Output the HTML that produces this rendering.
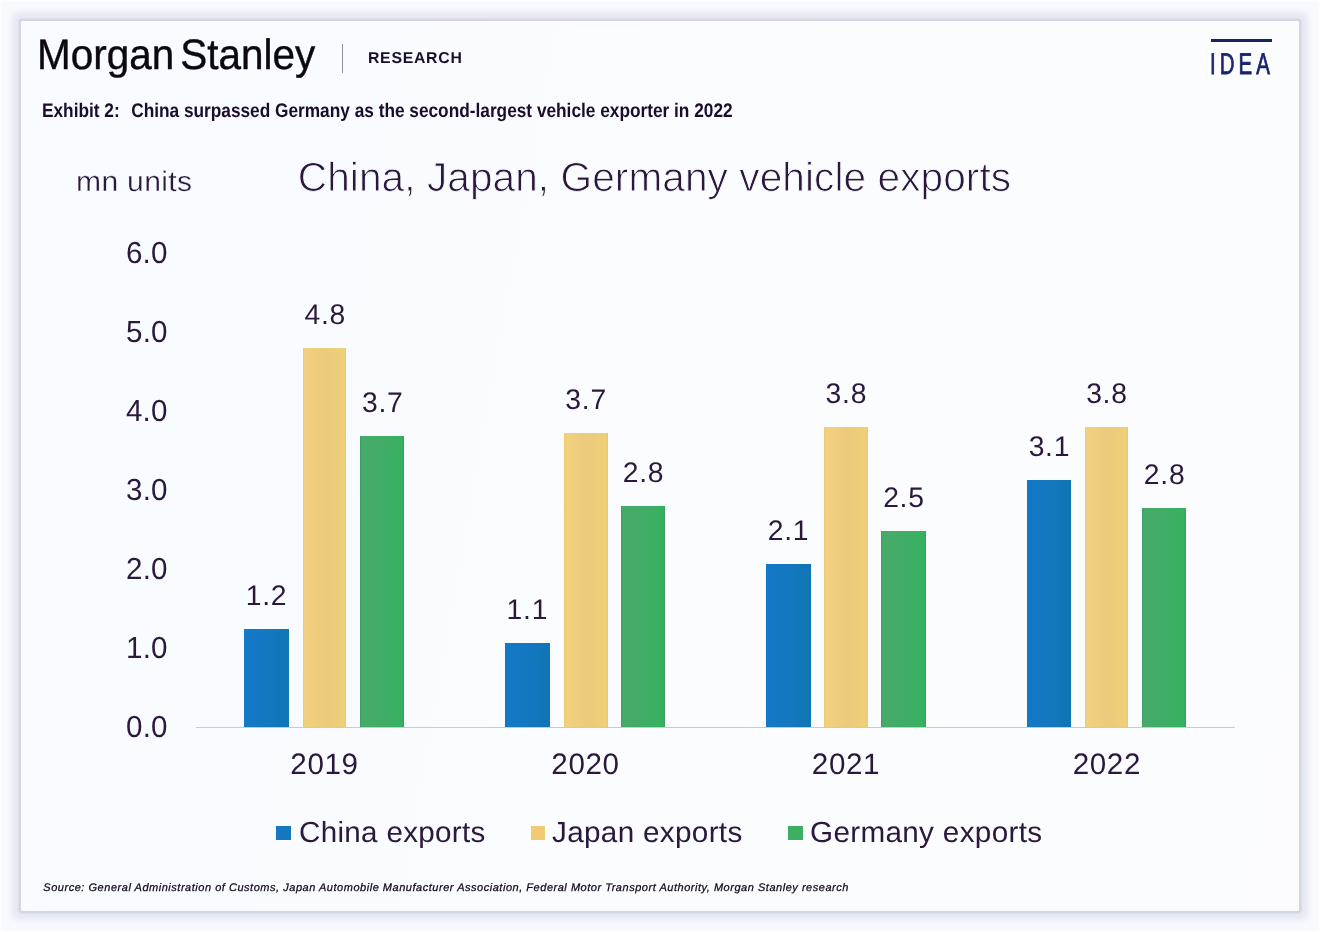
<!DOCTYPE html>
<html lang="en">
<head>
<meta charset="utf-8">
<title>China, Japan, Germany vehicle exports</title>
<style>
html,body{margin:0;padding:0;}
body{width:1320px;height:932px;overflow:hidden;background:#f8f9fe;font-family:"Liberation Sans",sans-serif;}
#page{position:relative;width:1320px;height:932px;overflow:hidden;background:#f8f9fe;box-shadow:inset 0 0 0 1.5px #fdfdfd;}
#card{position:absolute;left:21px;top:21px;width:1277.7px;height:890px;border-radius:2px;background:linear-gradient(100deg,#f7fbff 0%,#fafcff 45%,#fcfcfe 100%);box-shadow:0 0 1px 1.2px #d3d6e1,0 0 2px 2.5px #dcdfea,0 0 5px 8.5px #e6e9f3;}
.t{position:absolute;white-space:nowrap;transform-origin:0 50%;text-rendering:geometricPrecision;}
.bar{position:absolute;}
#axis{position:absolute;left:196px;top:726.5px;width:1039px;height:1.5px;background:#c3cbd3;}
#divider{position:absolute;left:342px;top:44px;width:1px;height:29px;background:#8f8f97;}
#idealine{position:absolute;left:1211px;top:39px;width:60.5px;height:3px;background:#14275c;}
.sq{position:absolute;top:826.2px;width:14.7px;height:14.2px;}
.g{display:contents;margin:0;padding:0;font:inherit;}

#ms{left:37.44px;top:29.78px;font-size:42.6px;line-height:51.12px;color:#0c0810;word-spacing:-5.5px;transform:scale(0.9504,1.0000);-webkit-text-stroke:0.4px #0c0810;}
#res{left:367.97px;top:50.25px;font-size:15.8px;line-height:18.96px;color:#1c0c2c;font-weight:700;letter-spacing:0.744px;}
#idea{left:1210.29px;top:47.10px;font-size:30px;line-height:36.0px;color:#1b2370;letter-spacing:6.000px;transform:scale(0.6815,1.0000);-webkit-text-stroke:0.8px #1b2370;}
#exh{left:42.14px;top:99.55px;font-size:19.7px;line-height:23.64px;color:#1c0c2c;font-weight:700;transform:scale(0.8766,1.0000);}
#mn{left:76.33px;top:165.31px;font-size:28.2px;line-height:33.84px;color:#2a183d;letter-spacing:0.300px;transform:scale(1.0671,1.0000);-webkit-text-stroke:0.3px #fafcff;}
#title{left:297.79px;top:153.17px;font-size:40.6px;line-height:48.72px;color:#2a183d;letter-spacing:0.078px;-webkit-text-stroke:0.9px #fafcff;}
#y0{left:125.90px;top:235.88px;font-size:29.6px;line-height:35.52px;color:#2a183d;letter-spacing:0.260px;transform:scale(1.0000,1.0300);}
#y1{left:125.93px;top:314.88px;font-size:29.6px;line-height:35.52px;color:#2a183d;letter-spacing:0.260px;transform:scale(1.0000,1.0300);}
#y2{left:125.92px;top:393.88px;font-size:29.6px;line-height:35.52px;color:#2a183d;letter-spacing:0.260px;transform:scale(1.0000,1.0300);}
#y3{left:125.93px;top:472.88px;font-size:29.6px;line-height:35.52px;color:#2a183d;letter-spacing:0.260px;transform:scale(1.0000,1.0300);}
#y4{left:125.93px;top:551.88px;font-size:29.6px;line-height:35.52px;color:#2a183d;letter-spacing:0.260px;transform:scale(1.0000,1.0300);}
#y5{left:125.93px;top:630.88px;font-size:29.6px;line-height:35.52px;color:#2a183d;letter-spacing:0.260px;transform:scale(1.0000,1.0300);}
#y6{left:125.93px;top:709.88px;font-size:29.6px;line-height:35.52px;color:#2a183d;letter-spacing:0.260px;transform:scale(1.0000,1.0300);}
#d00{left:245.82px;top:578.51px;font-size:28.3px;line-height:33.96px;color:#2a183d;letter-spacing:0.620px;}
#d01{left:304.42px;top:298.21px;font-size:28.3px;line-height:33.96px;color:#2a183d;letter-spacing:0.746px;}
#d02{left:361.95px;top:386.01px;font-size:28.3px;line-height:33.96px;color:#2a183d;letter-spacing:0.746px;}
#yr0{left:290.34px;top:746.98px;font-size:29.6px;line-height:35.52px;color:#2a183d;letter-spacing:0.624px;}
#d10{left:506.56px;top:593.21px;font-size:28.3px;line-height:33.96px;color:#2a183d;letter-spacing:0.746px;}
#d11{left:565.34px;top:383.01px;font-size:28.3px;line-height:33.96px;color:#2a183d;letter-spacing:0.746px;}
#d12{left:622.75px;top:456.21px;font-size:28.3px;line-height:33.96px;color:#2a183d;letter-spacing:0.746px;}
#yr1{left:551.31px;top:746.98px;font-size:29.6px;line-height:35.52px;color:#2a183d;letter-spacing:0.624px;}
#d20{left:767.73px;top:513.61px;font-size:28.3px;line-height:33.96px;color:#2a183d;letter-spacing:0.746px;}
#d21{left:825.58px;top:377.21px;font-size:28.3px;line-height:33.96px;color:#2a183d;letter-spacing:0.746px;}
#d22{left:883.15px;top:481.21px;font-size:28.3px;line-height:33.96px;color:#2a183d;letter-spacing:0.746px;}
#yr2{left:811.81px;top:746.98px;font-size:29.6px;line-height:35.52px;color:#2a183d;letter-spacing:0.624px;}
#d30{left:1028.64px;top:429.61px;font-size:28.3px;line-height:33.96px;color:#2a183d;letter-spacing:0.746px;}
#d31{left:1086.15px;top:377.21px;font-size:28.3px;line-height:33.96px;color:#2a183d;letter-spacing:0.746px;}
#d32{left:1143.80px;top:458.01px;font-size:28.3px;line-height:33.96px;color:#2a183d;letter-spacing:0.746px;}
#yr3{left:1072.65px;top:746.98px;font-size:29.6px;line-height:35.52px;color:#2a183d;letter-spacing:0.624px;}
#l0{left:299.04px;top:816.40px;font-size:28.0px;line-height:33.6px;color:#2a183d;letter-spacing:0.300px;transform:scale(1.0565,1.0400);}
#l1{left:551.68px;top:816.40px;font-size:28.0px;line-height:33.6px;color:#2a183d;letter-spacing:0.300px;transform:scale(1.0601,1.0400);}
#l2{left:809.84px;top:816.40px;font-size:28.0px;line-height:33.6px;color:#2a183d;letter-spacing:0.300px;transform:scale(1.0600,1.0400);}
#src{left:43.37px;top:881.59px;font-size:11px;line-height:13.2px;color:#10061c;font-style:italic;letter-spacing:0.526px;-webkit-text-stroke:0.25px #10061c;}
</style>
</head>
<body>
<div id="page">
<div id="card"></div>
<header class="g">
<span class="t" id="ms">Morgan Stanley</span>
<div id="divider"></div>
<span class="t" id="res">RESEARCH</span>
<div id="idealine"></div>
<span class="t" id="idea">IDEA</span>
</header>
<p class="g"><span class="t" id="exh">Exhibit 2:  China surpassed Germany as the second-largest vehicle exporter in 2022</span></p>
<section class="g">
<h1 class="g"><span class="t" id="title">China, Japan, Germany vehicle exports</span></h1>
<span class="t" id="mn">mn units</span>
<div class="g yaxis">
<span class="t" id="y0">6.0</span>
<span class="t" id="y1">5.0</span>
<span class="t" id="y2">4.0</span>
<span class="t" id="y3">3.0</span>
<span class="t" id="y4">2.0</span>
<span class="t" id="y5">1.0</span>
<span class="t" id="y6">0.0</span>
</div>
<div id="axis"></div>
<div class="g group">
<div class="bar" style="left:244.0px;top:629.3px;width:45.0px;height:97.7px;background:linear-gradient(to right,#1279c7,#1478c0 50%,#0f75b3)"></div>
<span class="t" id="d00">1.2</span>
<div class="bar" style="left:302.7px;top:348.0px;width:43.8px;height:379.0px;background:linear-gradient(to right,#e9c878 0,#f2d07e 4%,#ebcb7b 55%,#efcf77 96%,#e9c772 100%)"></div>
<span class="t" id="d01">4.8</span>
<div class="bar" style="left:359.7px;top:435.8px;width:44.8px;height:291.2px;background:linear-gradient(to right,#3c9a68 0,#46ab6a 4%,#41ad66 50%,#36b160 96%,#3a9868 100%)"></div>
<span class="t" id="d02">3.7</span>
<span class="t" id="yr0">2019</span>
</div>
<div class="g group">
<div class="bar" style="left:505.0px;top:643.0px;width:44.5px;height:84.0px;background:linear-gradient(to right,#1279c7,#1478c0 50%,#0f75b3)"></div>
<span class="t" id="d10">1.1</span>
<div class="bar" style="left:563.5px;top:432.8px;width:44.0px;height:294.2px;background:linear-gradient(to right,#e9c878 0,#f2d07e 4%,#ebcb7b 55%,#efcf77 96%,#e9c772 100%)"></div>
<span class="t" id="d11">3.7</span>
<div class="bar" style="left:620.7px;top:506.0px;width:44.8px;height:221.0px;background:linear-gradient(to right,#3c9a68 0,#46ab6a 4%,#41ad66 50%,#36b160 96%,#3a9868 100%)"></div>
<span class="t" id="d12">2.8</span>
<span class="t" id="yr1">2020</span>
</div>
<div class="g group">
<div class="bar" style="left:765.5px;top:564.4px;width:45.0px;height:162.6px;background:linear-gradient(to right,#1279c7,#1478c0 50%,#0f75b3)"></div>
<span class="t" id="d20">2.1</span>
<div class="bar" style="left:823.7px;top:427.0px;width:44.3px;height:300.0px;background:linear-gradient(to right,#e9c878 0,#f2d07e 4%,#ebcb7b 55%,#efcf77 96%,#e9c772 100%)"></div>
<span class="t" id="d21">3.8</span>
<div class="bar" style="left:881.3px;top:531.0px;width:44.4px;height:196.0px;background:linear-gradient(to right,#3c9a68 0,#46ab6a 4%,#41ad66 50%,#36b160 96%,#3a9868 100%)"></div>
<span class="t" id="d22">2.5</span>
<span class="t" id="yr2">2021</span>
</div>
<div class="g group">
<div class="bar" style="left:1026.6px;top:480.4px;width:44.4px;height:246.6px;background:linear-gradient(to right,#1279c7,#1478c0 50%,#0f75b3)"></div>
<span class="t" id="d30">3.1</span>
<div class="bar" style="left:1084.5px;top:427.0px;width:43.9px;height:300.0px;background:linear-gradient(to right,#e9c878 0,#f2d07e 4%,#ebcb7b 55%,#efcf77 96%,#e9c772 100%)"></div>
<span class="t" id="d31">3.8</span>
<div class="bar" style="left:1142.0px;top:507.8px;width:44.3px;height:219.2px;background:linear-gradient(to right,#3c9a68 0,#46ab6a 4%,#41ad66 50%,#36b160 96%,#3a9868 100%)"></div>
<span class="t" id="d32">2.8</span>
<span class="t" id="yr3">2022</span>
</div>
<div class="g legend">
<div class="sq" style="left:276px;background:#1577bf"></div>
<span class="t" id="l0">China exports</span>
<div class="sq" style="left:530.6px;background:#f1cb74"></div>
<span class="t" id="l1">Japan exports</span>
<div class="sq" style="left:788.2px;background:#3fae62"></div>
<span class="t" id="l2">Germany exports</span>
</div>
</section>
<footer class="g"><span class="t" id="src">Source: General Administration of Customs, Japan Automobile Manufacturer Association, Federal Motor Transport Authority, Morgan Stanley research</span></footer>
</div>
</body>
</html>
